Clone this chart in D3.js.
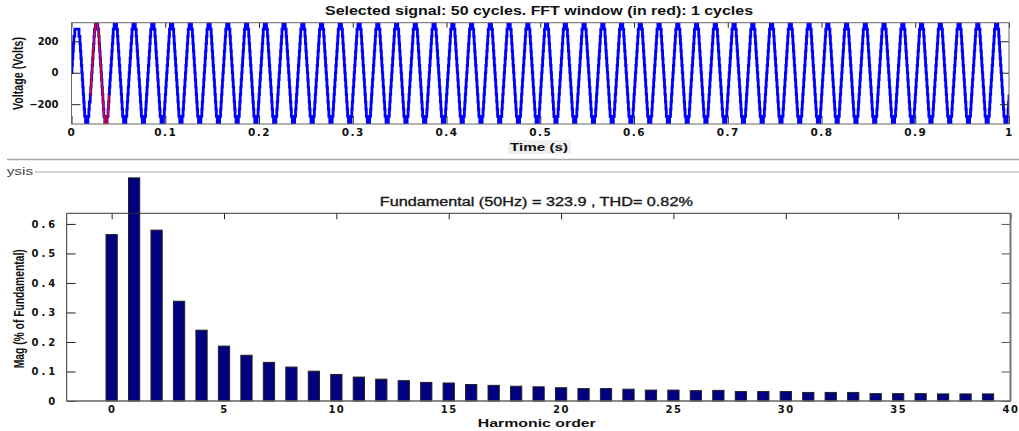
<!DOCTYPE html>
<html><head><meta charset="utf-8">
<script src="https://cdn.jsdelivr.net/npm/d3@7"></script>
<style>body{margin:0;background:#fff}svg{display:block}</style>
</head><body>
<svg id="chart" width="1019" height="431"></svg>
<script>
// ---------- data ----------
const topTitle = "Selected signal: 50 cycles. FFT window (in red): 1 cycles";
const bottomTitle = "Fundamental (50Hz) = 323.9 , THD= 0.82%";
const timeLabel = "Time (s)";
const voltLabel = "Voltage (Volts)";
const harmLabel = "Harmonic order";
const magLabel = "Mag (% of Fundamental)";
const panelLabel = "ysis";

const sampleStep = 0.0005;      // s between staircase samples
const cyclePeriod = 0.02;       // s (50 Hz)
const cycleCount = 50;
// first (transient) cycle, volts, one value per 0.5 ms
const firstCycle = [0, 46, 92, 138, 185, 231, 231, 277, 277, 277, 277, 277, 277, 277, 277, 277, 231, 231, 185, 138,
                    92, 46, 0, -46, -92, -138, -185, -231, -277, -277, -323, -323, -323, -323, -323, -277, -277, -231, -185, -185];
// steady-state staircase cycle, volts, one value per 0.5 ms
const steadyCycle = [-138, -92, -46, 0, 46, 92, 138, 185, 231, 277, 277, 323, 323, 323, 323, 323, 277, 277, 231, 185,
                     138, 92, 46, 0, -46, -92, -138, -185, -231, -277, -277, -323, -323, -323, -323, -323, -277, -277, -231, -185];
const fftWindow = [0.02, 0.04];
const timeTicks = [0, 0.1, 0.2, 0.3, 0.4, 0.5, 0.6, 0.7, 0.8, 0.9, 1];
const voltTicks = [-200, 0, 200];

const harmonicOrders = [0,1,2,3,4,5,6,7,8,9,10,11,12,13,14,15,16,17,18,19,20,21,22,23,24,25,26,27,28,29,30,31,32,33,34,35,36,37,38,39];
const harmonicMags = [0.564, 0.756, 0.579, 0.338, 0.240, 0.186, 0.155, 0.131, 0.115, 0.101,
                      0.090, 0.081, 0.074, 0.069, 0.063, 0.061, 0.056, 0.053, 0.050, 0.048,
                      0.045, 0.042, 0.042, 0.040, 0.037, 0.037, 0.035, 0.036, 0.032, 0.032,
                      0.032, 0.029, 0.029, 0.029, 0.025, 0.025, 0.025, 0.024, 0.024, 0.024];
const harmonicTicks = [0, 5, 10, 15, 20, 25, 30, 35, 40];
const magTicks = [0, 0.1, 0.2, 0.3, 0.4, 0.5, 0.6];

// ---------- build ----------
const svg = d3.select("#chart");
const SANS = "'Liberation Sans', Arial, sans-serif";
const TICKF = "'DejaVu Sans', Verdana, sans-serif";

const signal = [];
for (let c = 0; c < cycleCount; c++) {
  const cyc = c === 0 ? firstCycle : steadyCycle;
  cyc.forEach((v, k) => signal.push({t: c * cyclePeriod + k * sampleStep, v}));
}
signal.push({t: 1, v: steadyCycle[0]});

// top plot
const T = {l: 71.5, r: 1009, t: 22.7, b: 124};
const xT = d3.scaleLinear().domain([0, 1]).range([T.l, T.r]);
const yT = d3.scaleLinear().domain([-326, 318]).range([T.b, T.t]);

svg.append("clipPath").attr("id", "clipTop").append("rect")
  .attr("x", T.l).attr("y", T.t).attr("width", T.r - T.l).attr("height", T.b - T.t);

const line = d3.line().x(d => xT(d.t)).y(d => yT(d.v)).curve(d3.curveStepAfter);
const gTop = svg.append("g");
gTop.append("path").datum(signal).attr("clip-path", "url(#clipTop)")
  .attr("d", line).attr("fill", "none").attr("stroke", "#0000ff").attr("stroke-width", 2.8);
gTop.append("path").datum(signal.filter(d => d.t >= fftWindow[0] && d.t <= fftWindow[1]))
  .attr("clip-path", "url(#clipTop)")
  .attr("d", line).attr("fill", "none").attr("stroke", "#ff0000").attr("stroke-width", 1.4);

// axes top plot
function styleAxis(g, color, fs, ls, family) {
  g.select(".domain").remove();
  g.selectAll(".tick line").attr("stroke", color);
  g.selectAll(".tick text").attr("fill", "#111").attr("font-family", family || TICKF)
    .attr("font-weight", "bold").attr("font-size", fs).attr("letter-spacing", ls || 0);
}
svg.append("g").attr("transform", `translate(0,${T.b})`)
  .call(d3.axisBottom(xT).tickValues(timeTicks).tickFormat(d3.format("~g")).tickSize(-8).tickPadding(4.5))
  .call(g => styleAxis(g, "#222", 10.5, 1.5));
svg.append("g").attr("transform", `translate(0,${T.t})`)
  .call(d3.axisTop(xT).tickValues(timeTicks).tickFormat("").tickSize(-5))
  .call(g => styleAxis(g, "#222", 10));
svg.append("g").attr("transform", `translate(${T.l},0)`)
  .call(d3.axisLeft(yT).tickValues(voltTicks).tickFormat(d3.format("d")).tickSize(-9).tickPadding(13))
  .call(g => styleAxis(g, "#222", 10, 0));
svg.append("g").attr("transform", `translate(${T.r},0)`)
  .call(d3.axisRight(yT).tickValues(voltTicks).tickFormat("").tickSize(-9))
  .call(g => styleAxis(g, "#222", 10));
svg.append("rect").attr("x", T.l).attr("y", T.t).attr("width", T.r - T.l).attr("height", T.b - T.t)
  .attr("fill", "none").attr("stroke", "#666").attr("stroke-width", 1);

// texts
function txt(x, y, s, opt) {
  const t = svg.append("text").attr("x", x).attr("y", y).text(s)
    .attr("font-family", opt.family || SANS).attr("font-size", opt.size)
    .attr("font-weight", opt.weight || "normal").attr("fill", opt.fill || "#111")
    .attr("text-anchor", opt.anchor || "middle");
  if (opt.len) t.attr("textLength", opt.len).attr("lengthAdjust", "spacingAndGlyphs");
  if (opt.rot) t.attr("transform", `rotate(${opt.rot},${x},${y})`);
  if (opt.stroke) t.attr("stroke", opt.fill || "#111").attr("stroke-width", opt.stroke);
  return t;
}
txt(539, 15, topTitle, {size: 12, weight: "bold", len: 428});
svg.append("rect").attr("x", 508).attr("y", 140).attr("width", 63).attr("height", 14).attr("fill", "#f0f0f0");
txt(539, 150.7, timeLabel, {size: 11.5, weight: "bold", len: 58});
txt(22.5, 73.5, voltLabel, {size: 14, weight: "bold", len: 73, rot: -90});

// separators
svg.append("line").attr("x1", 7).attr("x2", 1019).attr("y1", 159.5).attr("y2", 159.5)
  .attr("stroke", "#a8a8a8").attr("stroke-width", 1.5);
txt(6.7, 174.5, panelLabel, {size: 10, anchor: "start", fill: "#444", len: 26.5});
svg.append("line").attr("x1", 35).attr("x2", 1019).attr("y1", 172).attr("y2", 172)
  .attr("stroke", "#d4d4d4").attr("stroke-width", 2);

// bottom plot
const B = {l: 66.7, r: 1010.5, t: 213.3, b: 401};
const xB = d3.scaleLinear().domain([-2, 40]).range([B.l, B.r]);
const yB = d3.scaleLinear().domain([0, 0.636]).range([B.b, B.t]);
const barW = xB(0.25) - xB(-0.25);

svg.append("g").selectAll("rect").data(harmonicOrders).join("rect")
  .attr("x", d => xB(d) - barW / 2).attr("width", barW)
  .attr("y", (d, i) => yB(harmonicMags[i])).attr("height", (d, i) => yB(0) - yB(harmonicMags[i]))
  .attr("fill", "#000080").attr("stroke", "#222").attr("stroke-width", 1);

svg.append("g").attr("transform", `translate(0,${B.b})`)
  .call(d3.axisBottom(xB).tickValues(harmonicTicks).tickFormat(d3.format("d")).tickSize(0).tickPadding(5.2))
  .call(g => styleAxis(g, "#222", 10, 1.5));
svg.append("g").attr("transform", `translate(0,${B.t})`)
  .call(d3.axisTop(xB).tickValues(harmonicTicks).tickFormat("").tickSize(-6))
  .call(g => styleAxis(g, "#222", 10));
svg.append("g").attr("transform", `translate(${B.l},0)`)
  .call(d3.axisLeft(yB).tickValues(magTicks).tickFormat(d3.format("~g")).tickSize(-9).tickPadding(8.4))
  .call(g => styleAxis(g, "#222", 10, 3));
svg.append("g").attr("transform", `translate(${B.r},0)`)
  .call(d3.axisRight(yB).tickValues(magTicks).tickFormat("").tickSize(-9))
  .call(g => styleAxis(g, "#555", 10));
// box lines
svg.append("line").attr("x1", B.l).attr("x2", B.r).attr("y1", B.t).attr("y2", B.t).attr("stroke", "#333");
svg.append("line").attr("x1", B.l).attr("x2", B.l).attr("y1", B.t).attr("y2", B.b).attr("stroke", "#333");
svg.append("line").attr("x1", B.r).attr("x2", B.r).attr("y1", B.t).attr("y2", B.b).attr("stroke", "#777").attr("stroke-width", 2);
svg.append("line").attr("x1", B.l).attr("x2", B.r).attr("y1", B.b).attr("y2", B.b).attr("stroke", "#666").attr("stroke-width", 1.5);

txt(536.3, 205.7, bottomTitle, {size: 12, fill: "#1a1a1a", len: 313, stroke: 0.35});
txt(536.8, 426.7, harmLabel, {size: 11.5, weight: "bold", len: 118});
txt(24.5, 308.8, magLabel, {size: 14, weight: "bold", len: 119, rot: -90});
</script>
</body></html>
